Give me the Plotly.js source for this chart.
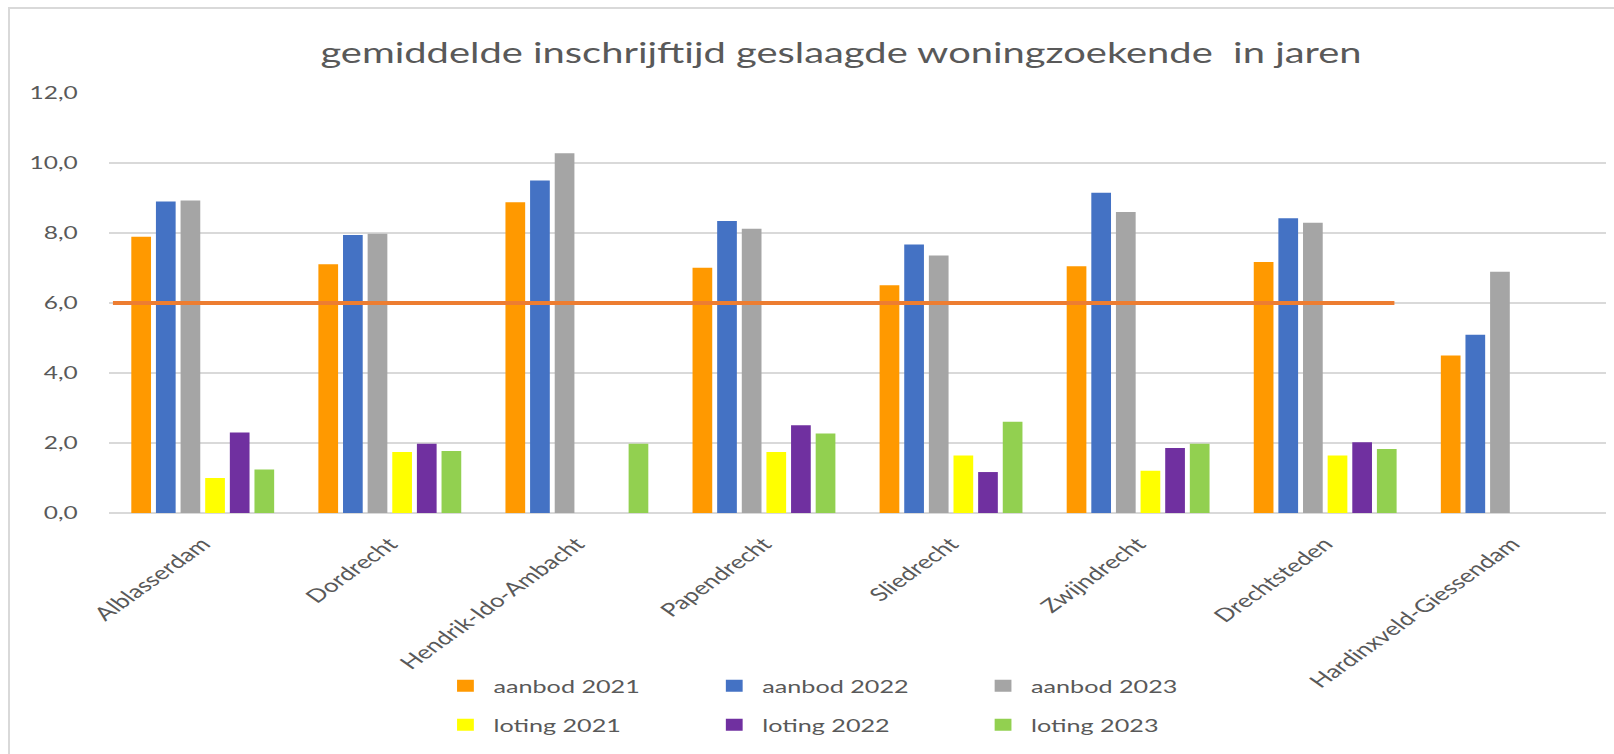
<!DOCTYPE html>
<html>
<head>
<meta charset="utf-8">
<script src="https://cdn.plot.ly/plotly-3.0.1.min.js"></script>
<style>
  html, body { margin: 0; padding: 0; background: #ffffff; overflow: hidden; width: 1614px; height: 754px; }
  #frame { position: absolute; left: 8px; top: 7px; width: 1606px; height: 747px;
           border-top: 2px solid #d9d9d9; border-left: 2px solid #d9d9d9; box-sizing: border-box; pointer-events: none; z-index: 2; }
  #chart { position: absolute; left: 0; top: 0; width: 1153px; height: 754px; transform: scaleX(1.4); transform-origin: 0 0; }
</style>
</head>
<body>
<div id="chart"></div>
<div id="frame"></div>
<script>
// ---- data ----
const categories = ["Alblasserdam", "Dordrecht", "Hendrik-Ido-Ambacht", "Papendrecht", "Sliedrecht", "Zwijndrecht", "Drechtsteden", "Hardinxveld-Giessendam"];
const aanbod2021 = [7.89, 7.11, 8.88, 7.01, 6.51, 7.05, 7.17, 4.50];
const aanbod2022 = [8.90, 7.94, 9.50, 8.34, 7.67, 9.15, 8.42, 5.09];
const aanbod2023 = [8.93, 7.98, 10.28, 8.12, 7.36, 8.60, 8.29, 6.89];
const loting2021 = [1.00, 1.74, null, 1.74, 1.64, 1.21, 1.64, null];
const loting2022 = [2.30, 1.98, null, 2.51, 1.17, 1.86, 2.02, null];
const loting2023 = [1.24, 1.77, 1.98, 2.27, 2.61, 1.98, 1.83, null];
const seriesNames = ["aanbod 2021", "aanbod 2022", "aanbod 2023", "loting 2021", "loting 2022", "loting 2023"];
const yTicks = [0, 2, 4, 6, 8, 10, 12];
const targetValue = 6;
const targetFrom = -0.48;   // category-index span of the reference line
const targetTo = 6.37;
const titleText = "gemiddelde inschrijftijd geslaagde woningzoekende  in jaren";

// ---- styling ----
const colors = ["#FF9900", "#4472C4", "#A5A5A5", "#FFFF00", "#7030A0", "#92D050"];
const textColor = "#595959";
const gridColor = "#d9d9d9";
const font = "Lato, 'Open Sans', 'Noto Sans', sans-serif";
const values = [aanbod2021, aanbod2022, aanbod2023, loting2021, loting2022, loting2023];

const traces = values.map((v, i) => ({
  type: "bar",
  name: seriesNames[i],
  x: categories,
  y: v,
  marker: { color: colors[i] },
  legend: i < 3 ? "legend" : "legend2",
  hoverinfo: "x+y+name"
}));

const legendCommon = {
  orientation: "h",
  xref: "container", yref: "container",
  x: 0.271, xanchor: "left", yanchor: "middle",
  entrywidth: 147, entrywidthmode: "pixels",
  itemwidth: 30,
  font: { family: font, size: 18, color: textColor },
  bgcolor: "rgba(0,0,0,0)",
  traceorder: "normal"
};

const layout = {
  width: 1153, height: 754,
  paper_bgcolor: "#ffffff", plot_bgcolor: "#ffffff",
  margin: { l: 78, r: 6, t: 93, b: 241 },
  font: { family: font, color: textColor },
  title: {
    text: titleText,
    font: { family: font, size: 28.5, color: textColor },
    xref: "container", yref: "container",
    x: 0.521, xanchor: "center", y: 0.929, yanchor: "middle"
  },
  barmode: "group",
  bargap: 0.21,
  bargroupgap: 0.2,
  separators: ",.",
  xaxis: {
    type: "category",
    tickangle: -45,
    tickfont: { family: font, size: 18.5, color: textColor },
    ticks: "outside", ticklen: 12, tickcolor: "rgba(0,0,0,0)",
    showgrid: false, showline: false, zeroline: false
  },
  yaxis: {
    range: [0, 12],
    tickvals: yTicks,
    tickformat: ".1f",
    tickfont: { family: font, size: 17.5, color: textColor },
    ticks: "outside", ticklen: 18, tickcolor: "rgba(0,0,0,0)",
    showgrid: true, gridcolor: gridColor, gridwidth: 2,
    zeroline: true, zerolinecolor: gridColor, zerolinewidth: 2,
    showline: false
  },
  shapes: [{
    type: "line", xref: "x", yref: "y",
    x0: targetFrom, x1: targetTo, y0: targetValue, y1: targetValue,
    line: { color: "#ED7D31", width: 4 },
    layer: "above"
  }],
  legend: Object.assign({}, legendCommon, { y: 0.0902 }),
  legend2: Object.assign({}, legendCommon, { y: 0.0385 }),
  showlegend: true
};

Plotly.newPlot("chart", traces, layout, { displayModeBar: false, staticPlot: true });
</script>
</body>
</html>
